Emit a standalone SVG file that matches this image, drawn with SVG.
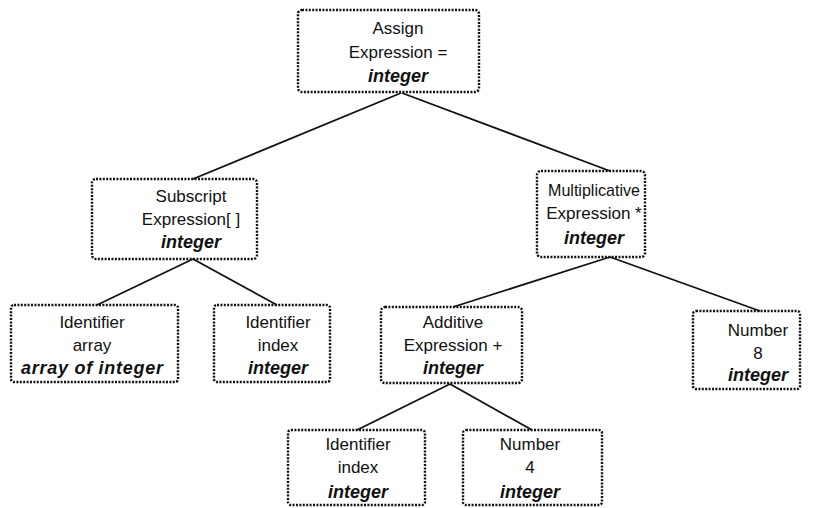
<svg xmlns="http://www.w3.org/2000/svg" width="825" height="508" viewBox="0 0 825 508">
<style>
.box{fill:none;stroke:#111;stroke-width:2.4;stroke-dasharray:2 1.4}
.t{font-family:"Liberation Sans",Arial,sans-serif;font-size:17px;fill:#111;text-anchor:middle}
.b{font-weight:bold;font-style:italic;font-size:18px}
.edge{stroke:#111;stroke-width:1.8;fill:none}
</style>
<rect width="825" height="508" fill="#fff"/>
<g id="connectors">
<line class="edge" x1="401" y1="93" x2="193" y2="179"/>
<line class="edge" x1="402" y1="93" x2="610" y2="171"/>
<line class="edge" x1="193" y1="259" x2="97" y2="305"/>
<line class="edge" x1="193" y1="259" x2="277" y2="305"/>
<line class="edge" x1="610" y1="257" x2="453" y2="307"/>
<line class="edge" x1="610" y1="257" x2="760" y2="311"/>
<line class="edge" x1="450" y1="384" x2="357" y2="430"/>
<line class="edge" x1="450" y1="384" x2="532" y2="430"/>
</g>
<g id="assign">
<rect class="box" x="298" y="10" width="181" height="82" rx="4"/>
<text class="t" x="398" y="34">Assign</text>
<text class="t" x="398" y="58">Expression =</text>
<text class="t b" x="398" y="82">integer</text>
</g>
<g id="subscript">
<rect class="box" x="92" y="179" width="165" height="80" rx="4"/>
<text class="t" x="191" y="202">Subscript</text>
<text class="t" x="191" y="225">Expression[ ]</text>
<text class="t b" x="191" y="248">integer</text>
</g>
<g id="multiplicative">
<rect class="box" x="537" y="171" width="108" height="86" rx="4"/>
<text class="t" x="594" y="196" textLength="92" lengthAdjust="spacingAndGlyphs">Multiplicative</text>
<text class="t" x="594" y="219">Expression *</text>
<text class="t b" x="594" y="244">integer</text>
</g>
<g id="identifier-array">
<rect class="box" x="11" y="305" width="167" height="77" rx="3"/>
<text class="t" x="92" y="328">Identifier</text>
<text class="t" x="92" y="351">array</text>
<text class="t b" x="92" y="374" textLength="142">array of integer</text>
</g>
<g id="identifier-index-1">
<rect class="box" x="214" y="305" width="116" height="77" rx="3"/>
<text class="t" x="278" y="328">Identifier</text>
<text class="t" x="278" y="351">index</text>
<text class="t b" x="278" y="374">integer</text>
</g>
<g id="additive">
<rect class="box" x="381" y="307" width="141" height="76" rx="4"/>
<text class="t" x="453" y="328">Additive</text>
<text class="t" x="453" y="351">Expression +</text>
<text class="t b" x="453" y="374">integer</text>
</g>
<g id="number-8">
<rect class="box" x="693" y="311" width="107" height="78" rx="3"/>
<text class="t" x="758" y="336">Number</text>
<text class="t" x="758" y="359">8</text>
<text class="t b" x="758" y="381">integer</text>
</g>
<g id="identifier-index-2">
<rect class="box" x="288" y="430" width="137" height="75" rx="3"/>
<text class="t" x="358" y="450">Identifier</text>
<text class="t" x="358" y="473">index</text>
<text class="t b" x="358" y="498">integer</text>
</g>
<g id="number-4">
<rect class="box" x="463" y="430" width="139" height="75" rx="3"/>
<text class="t" x="530" y="450">Number</text>
<text class="t" x="530" y="473">4</text>
<text class="t b" x="530" y="498">integer</text>
</g>
</svg>
